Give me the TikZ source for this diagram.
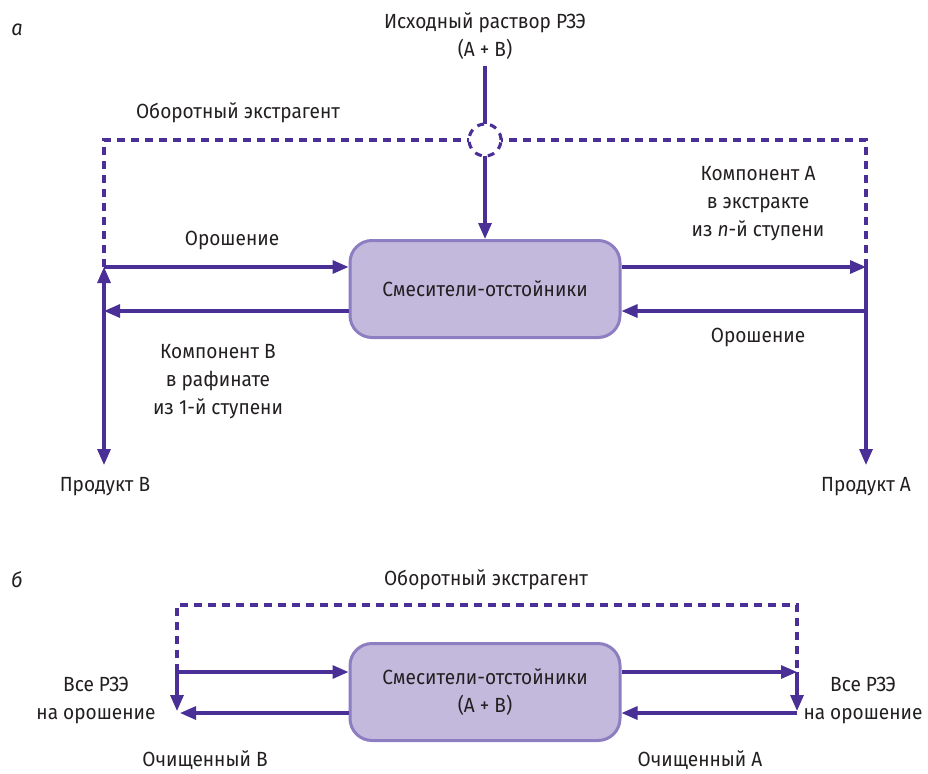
\documentclass[tikz,border=0pt]{standalone}
\usepackage{fontspec}
\setmainfont{Fira Sans}[FakeStretch=0.93]
\usetikzlibrary{arrows.meta}
\definecolor{ln}{RGB}{73,47,150}
\definecolor{boxfill}{RGB}{194,185,221}
\definecolor{boxdraw}{RGB}{140,126,193}
\definecolor{txt}{RGB}{35,31,32}
\begin{document}
\begin{tikzpicture}[x=1pt,y=-1pt,
  conn/.style={draw=ln,line width=3.1pt},
  tip/.tip={Triangle[length=16pt,width=13pt]},
  arr/.style={conn,-tip},
  dsh/.style={draw=ln,line width=3.1pt,dash pattern=on 8pt off 6pt},
  proc/.style={draw=boxdraw,fill=boxfill,line width=3pt,rounded corners=22pt,minimum width=270pt,minimum height=97pt,align=center,text=txt,font=\fontsize{20.5}{28}\selectfont},
  lbl/.style={text=txt,font=\fontsize{20.5}{28}\selectfont,align=center,inner sep=0pt}]
\useasboundingbox (0,0) rectangle (928,773);
% ---------- a ----------
\node[lbl,font=\fontsize{21.5}{28}\selectfont\itshape] (la) at (17,30) {а};
\node[lbl] (src) at (485,36) {Исходный раствор РЗЭ\\(A + B)};
\node[proc] (mix) at (485,289) {Смесители-отстойники};
\coordinate (srcb) at (485,66);
\coordinate (dl) at (104,140);
\coordinate (dr) at (866,140);
\coordinate (jl) at (104,267);
\coordinate (jr) at (866,262);
\coordinate (pl) at (104,465);
\coordinate (pr) at (866,465);
\coordinate (rl) at (104,311);
\coordinate (rr) at (866,311);
\draw[arr] (srcb) -- (mix.north);
\draw[dsh] (jl) -- (dl) -- (dr) -- (jr);
\node[circle,fill=white,minimum size=32pt,inner sep=0pt,draw=ln,line width=3.1pt,dash pattern=on 7pt off 6pt] (hop) at (485,140) {};
\draw[arr] (jl) -- (mix.west |- jl);
\draw[arr] (mix.west |- rl) -- (rl);
\draw[conn,tip-tip] (jl) -- (pl);
\draw[arr] (mix.east |- jl) -- (jl -| jr);
\draw[arr] (rr) -- (mix.east |- rr);
\draw[arr] (jr) -- (pr);
\node[lbl] (ob1) at (238,113) {Оборотный экстрагент};
\node[lbl] (or1) at (232,240) {Орошение};
\node[lbl] (kb) at (218,382) {Компонент В\\в рафинате\\из 1-й ступени};
\node[lbl] (ka) at (758,204) {Компонент А\\в экстракте\\из \textit{n}-й ступени};
\node[lbl] (or2) at (758,337) {Орошение};
\node[lbl] (prb) at (105,487) {Продукт В};
\node[lbl] (pra) at (866,487) {Продукт А};
% ---------- b ----------
\node[lbl,font=\fontsize{21.5}{28}\selectfont\itshape] (lb) at (17,580) {б};
\node[lbl] (ob2) at (486,580) {Оборотный экстрагент};
\node[proc] (mix2) at (485,692) {Смесители-отстойники\\(A + B)};
\coordinate (bl) at (177,672);
\coordinate (br) at (797,672);
\coordinate (btl) at (177,605);
\coordinate (btr) at (797,605);
\coordinate (bll) at (180,713);
\coordinate (brr) at (797,713);
\coordinate (bld) at (177,711);
\coordinate (brd) at (797,711);
\draw[dsh] (bl) -- (btl) -- (btr) -- (br);
\draw[arr] (bl) -- (mix2.west |- bl);
\draw[arr] (bl) -- (bld);
\draw[arr] (mix2.west |- bll) -- (bll);
\draw[arr] (mix2.east |- br) -- (br);
\draw[arr] (br) -- (brd);
\draw[arr] (brr) -- (mix2.east |- brr);
\node[lbl] (vl) at (96,700) {Все РЗЭ\\на орошение};
\node[lbl] (vr) at (863,700) {Все РЗЭ\\на орошение};
\node[lbl] (cb) at (205,760) {Очищенный В};
\node[lbl] (ca) at (700,760) {Очищенный А};
\end{tikzpicture}
\end{document}
